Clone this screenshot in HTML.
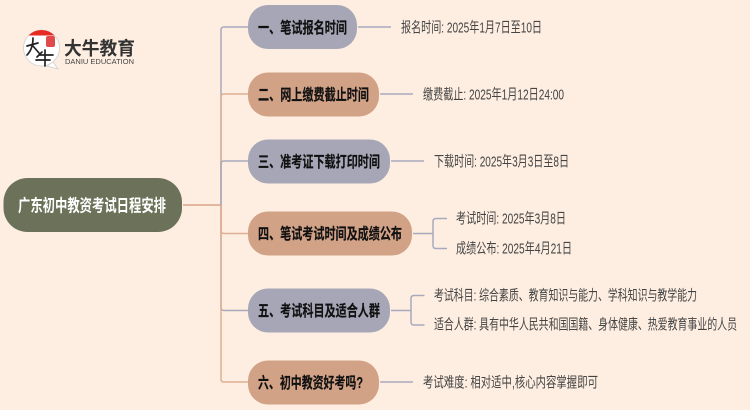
<!DOCTYPE html>
<html lang="zh">
<head>
<meta charset="utf-8">
<title>广东初中教资考试日程安排</title>
<style>
html,body{margin:0;padding:0;width:750px;height:410px;overflow:hidden;background:#feeee1}
svg{display:block}
text{font-family:"Liberation Sans","Noto Sans CJK SC",sans-serif}
.n{font-size:15.500px;font-weight:700;fill:#111;stroke:#111;stroke-width:.2}
.l{font-size:14.500px;fill:#444}
.a{fill:none;stroke:#a9a9bd;stroke-width:1.5}
.b{fill:none;stroke:#dfae93;stroke-width:1.5}
</style>
</head>
<body>
<svg width="750" height="410" viewBox="0 0 750 410" xmlns="http://www.w3.org/2000/svg">
<rect width="750" height="410" fill="#feeee1"/>

<!-- logo -->
<path d="M53 62 L58 69 L47 66 Z" fill="#fff" stroke="#ccc" stroke-width=".7"/>
<circle cx="41.500" cy="48" r="18" fill="#fff" stroke="#d0d0d0" stroke-width=".8"/>
<path d="M28.500 35.500 A18 18 0 0 1 54.500 35.500 Z" fill="#e52b24"/>
<rect x="46" y="36" width="9" height="11" rx="2" fill="#e04a4a"/>
<path d="M27 46L38 43M33 38C33 46 31 51 27 55M33 46L39 53M42 52L37 57M39 55H53M45 50V66M36 60H50" fill="none" stroke="#222" stroke-width="1.700" stroke-linecap="round"/>
<text x="64" y="55" font-size="18.500" font-weight="700" fill="#333" textLength="71" lengthAdjust="spacingAndGlyphs">大牛教育</text>
<text x="65" y="64" font-size="7.500" fill="#444" textLength="69" lengthAdjust="spacingAndGlyphs">DANIU EDUCATION</text>

<!-- trunk connectors -->
<line x1="183" y1="205" x2="221" y2="205" class="b" style="stroke-width:1.7"/>
<path class="a" d="M221 205V30Q221 27 224 27H248"/>
<path class="b" d="M221 205V97Q221 94 224 94H248"/>
<path class="a" d="M221 205V164Q221 161 224 161H248"/>
<path class="a" d="M221 205V307Q221 310.500 224 310.500H248"/>
<path class="b" d="M221 205V230Q221 233.500 224 233.500H248"/>
<path class="b" d="M221 205V379Q221 382 224 382H248"/>

<!-- leaf connectors -->
<line x1="358" y1="27" x2="391" y2="27" class="a"/>
<line x1="380" y1="94" x2="413" y2="94" class="a"/>
<line x1="391" y1="161" x2="424" y2="161" class="a"/>
<path class="a" d="M413 233.500H433M447 218.500H436Q433 218.500 433 221.500V245.500Q433 248.500 436 248.500H447"/>
<path class="a" d="M391 310.500H411M424.500 295.500H414Q411 295.500 411 298.500V322Q411 325 414 325H424.500"/>
<line x1="380" y1="382" x2="413" y2="382" class="a"/>

<!-- root -->
<rect x="3.500" y="178" width="178.500" height="54" rx="24" fill="#6c7259"/>
<text x="18" y="211.500" font-size="17" font-weight="700" fill="#fff" textLength="148" lengthAdjust="spacingAndGlyphs">广东初中教资考试日程安排</text>

<!-- main nodes -->
<rect x="248" y="5" width="109" height="44" rx="20" fill="#a6a6b7"/>
<text x="258" y="33" class="n" textLength="89" lengthAdjust="spacingAndGlyphs">一、笔试报名时间</text>

<rect x="248" y="72.500" width="131" height="44" rx="20" fill="#d2a287"/>
<text x="258" y="100" class="n" textLength="111" lengthAdjust="spacingAndGlyphs">二、网上缴费截止时间</text>

<rect x="248" y="139.500" width="142" height="44" rx="20" fill="#a6a6b7"/>
<text x="258" y="167" class="n" textLength="122" lengthAdjust="spacingAndGlyphs">三、准考证下载打印时间</text>

<rect x="248" y="211.500" width="164" height="44" rx="20" fill="#d2a287"/>
<text x="258" y="239" class="n" textLength="144" lengthAdjust="spacingAndGlyphs">四、笔试考试时间及成绩公布</text>

<rect x="248" y="288.500" width="142" height="44" rx="20" fill="#a6a6b7"/>
<text x="258" y="316" class="n" textLength="122" lengthAdjust="spacingAndGlyphs">五、考试科目及适合人群</text>

<rect x="248" y="360.500" width="131" height="44" rx="20" fill="#d2a287"/>
<text x="258" y="388" class="n" textLength="105" lengthAdjust="spacingAndGlyphs">六、初中教资好考吗?</text>

<!-- leaves -->
<text x="401" y="32.500" class="l" textLength="141" lengthAdjust="spacingAndGlyphs">报名时间: 2025年1月7日至10日</text>
<text x="423" y="99.500" class="l" textLength="141" lengthAdjust="spacingAndGlyphs">缴费截止: 2025年1月12日24:00</text>
<text x="434" y="166.500" class="l" textLength="135" lengthAdjust="spacingAndGlyphs">下载时间: 2025年3月3日至8日</text>
<text x="456" y="223.500" class="l" textLength="110" lengthAdjust="spacingAndGlyphs">考试时间: 2025年3月8日</text>
<text x="456" y="253.500" class="l" textLength="116" lengthAdjust="spacingAndGlyphs">成绩公布: 2025年4月21日</text>
<text x="434" y="300.500" class="l" textLength="263" lengthAdjust="spacingAndGlyphs">考试科目: 综合素质、教育知识与能力、学科知识与教学能力</text>
<text x="434" y="329.500" class="l" textLength="303" lengthAdjust="spacingAndGlyphs">适合人群: 具有中华人民共和国国籍、身体健康、热爱教育事业的人员</text>
<text x="423" y="387.500" class="l" textLength="175" lengthAdjust="spacingAndGlyphs">考试难度: 相对适中,核心内容掌握即可</text>
</svg>
</body>
</html>
